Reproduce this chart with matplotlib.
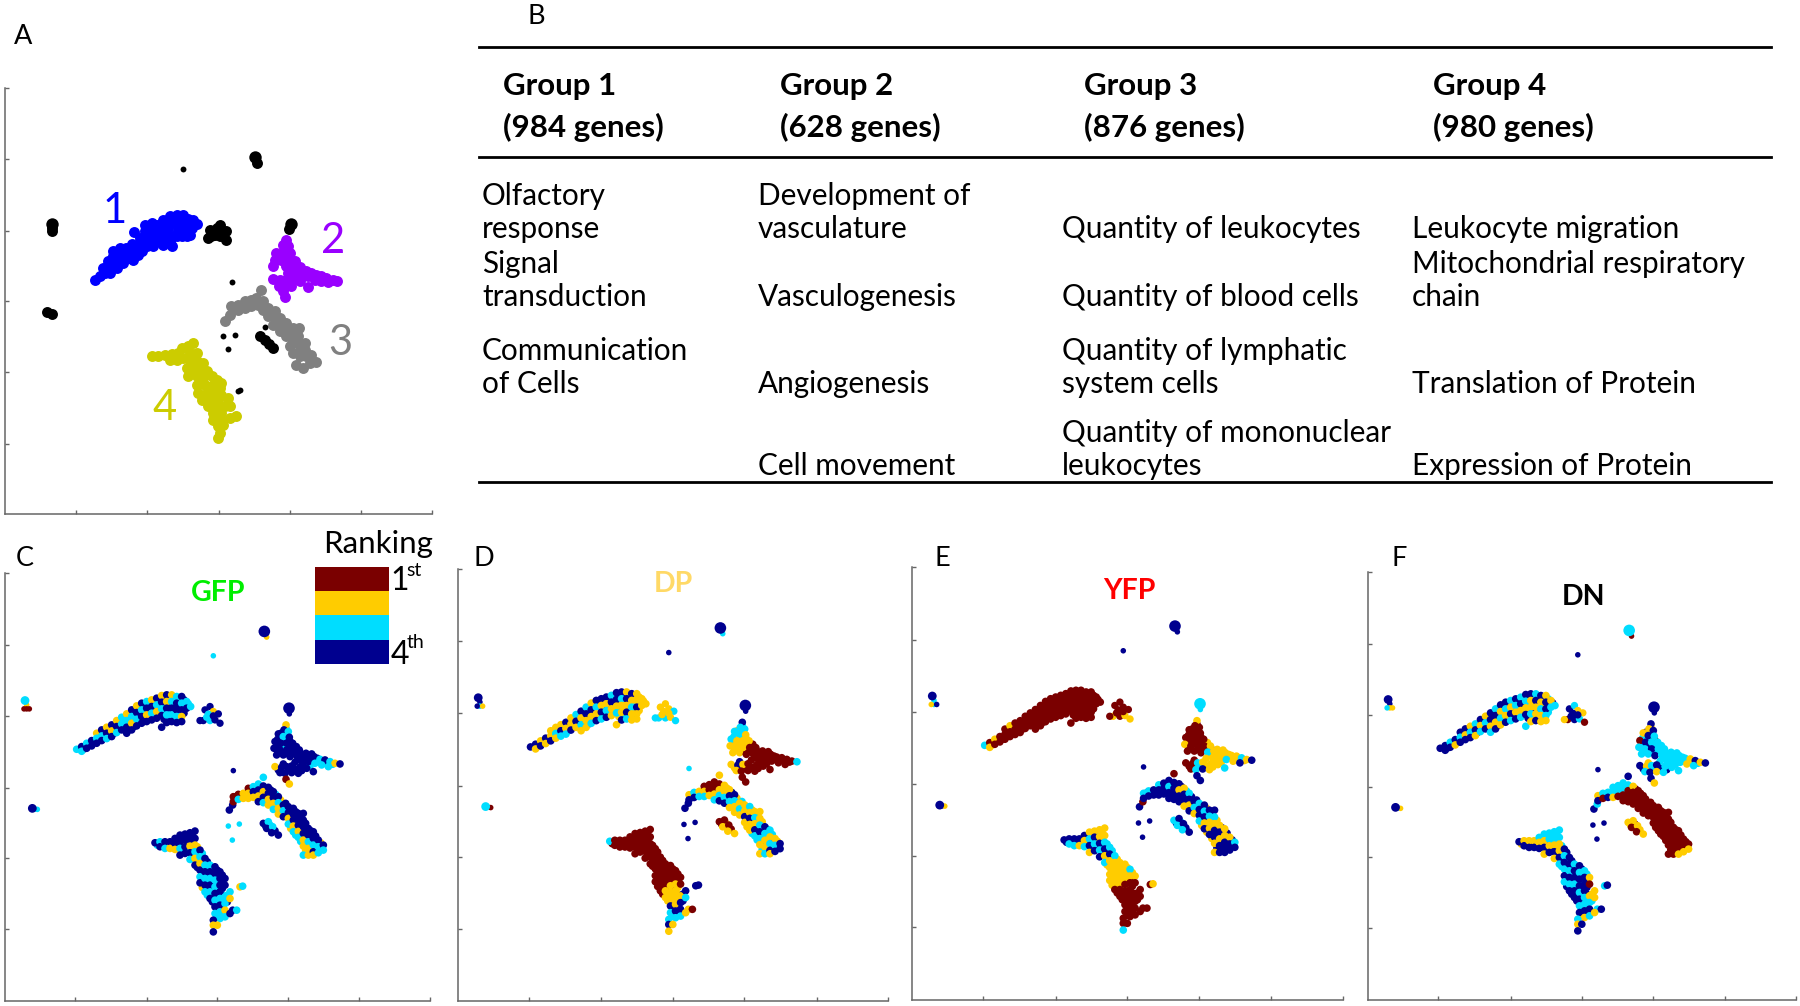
import matplotlib
matplotlib.use('Agg')
import matplotlib.pyplot as plt
import numpy as np
from matplotlib.colors import ListedColormap

plt.rcParams['font.family'] = ['Lato', 'DejaVu Sans']

W, H = 1800, 1006

# ---- table text (panel B)
group_names = ['Group 1', 'Group 2', 'Group 3', 'Group 4']
group_genes = ['(984 genes)', '(628 genes)', '(876 genes)', '(980 genes)']
col1_terms = [('Olfactory', 0), ('response', 1), ('Signal', 2), ('transduction', 3),
              ('Communication', 4), ('of Cells', 5)]
col2_terms = [('Development of', 0), ('vasculature', 1), ('Vasculogenesis', 3),
              ('Angiogenesis', 5), ('Cell movement', 7)]
col3_terms = [('Quantity of leukocytes', 1), ('Quantity of blood cells', 3),
              ('Quantity of lymphatic', 4), ('system cells', 5),
              ('Quantity of mononuclear', 6), ('leukocytes', 7)]
col4_terms = [('Leukocyte migration', 1), ('Mitochondrial respiratory', 2), ('chain', 3),
              ('Translation of Protein', 5), ('Expression of Protein', 7)]

# ---- panel A points, one list per group
a_blue = [(285, 660), (300, 650), (315, 640), (310, 625), (328, 625), (325, 605), (342, 612), (340, 588),
          (358, 600), (358, 578), (375, 590), (378, 565), (395, 580), (395, 552), (412, 568), (420, 535),
          (430, 555), (435, 515), (450, 545), (450, 505), (465, 530), (470, 495), (485, 520), (490, 480),
          (505, 505), (510, 470), (525, 490), (530, 465), (545, 485), (550, 465), (565, 478), (580, 480),
          (590, 492), (575, 505), (555, 505), (535, 510), (520, 530), (500, 530), (545, 530), (570, 525),
          (480, 538), (460, 560), (517, 560), (403, 516), (440, 560), (415, 585), (385, 595),
          (330, 640), (350, 625), (370, 610), (400, 600), (425, 575), (445, 530), (470, 545), (490, 555),
          (510, 545), (530, 530), (560, 530), (490, 500), (470, 515), (510, 490), (545, 505), (400, 565),
          (380, 580), (345, 600), (440, 535), (420, 555), (360, 565), (340, 575), (455, 490), (435, 495)]
a_purple = [(860, 540), (850, 555), (865, 560), (830, 580), (850, 580), (870, 580), (825, 600), (845, 600),
            (870, 600), (885, 605), (820, 620), (860, 620), (880, 620), (900, 622), (920, 635), (935, 640),
            (950, 645), (965, 650), (980, 655), (1000, 660), (1013, 665), (885, 640), (905, 640), (925, 650),
            (945, 660), (965, 665), (985, 668), (865, 640), (820, 658), (840, 660), (860, 660), (880, 660),
            (900, 665), (925, 682), (838, 680), (855, 680), (875, 680), (850, 695), (855, 712)]
a_gray = [(675, 785), (690, 765), (695, 740), (715, 735), (715, 750), (735, 725), (735, 745), (755, 720),
          (755, 740), (770, 715), (775, 735), (785, 690), (790, 725), (790, 750), (805, 745), (805, 770),
          (825, 755), (825, 775), (820, 795), (840, 775), (840, 795), (840, 815), (860, 790), (860, 810),
          (860, 830), (880, 805), (880, 825), (880, 845), (898, 805), (895, 830), (895, 850), (870, 860),
          (880, 880), (900, 870), (915, 850), (915, 870), (900, 890), (920, 890), (935, 885), (890, 915),
          (910, 925), (930, 910), (950, 908)]
a_olive = [(455, 890), (475, 888), (495, 885), (515, 882), (535, 880), (545, 865), (565, 860), (578, 850),
           (510, 900), (530, 900), (550, 895), (570, 880), (590, 880), (570, 905), (590, 905), (610, 910),
           (560, 925), (580, 925), (600, 930), (620, 935), (565, 950), (590, 950), (610, 955), (635, 950),
           (650, 960), (665, 970), (590, 975), (615, 975), (640, 975), (660, 985), (595, 1000), (620, 1000),
           (645, 1000), (665, 1005), (605, 1020), (630, 1020), (655, 1020), (685, 1015), (625, 1040),
           (650, 1040), (675, 1040), (640, 1060), (665, 1060), (690, 1040), (710, 1068), (640, 1080),
           (665, 1080), (690, 1075), (655, 1100), (670, 1095), (660, 1120), (655, 1135)]
a_black = [(630, 512), (650, 505), (660, 495), (665, 515), (645, 525), (660, 530), (625, 535), (678, 540),
           (680, 515), (632, 530), (772, 310), (868, 508), (780, 828), (795, 840), (808, 852), (820, 864),
           (157, 515), (155, 764), (140, 758), (157, 505)]
a_black_big = [(765, 293), (873, 492), (157, 493)]
a_black_small = [(550, 327), (698, 666), (670, 830), (705, 825), (686, 868), (797, 802), (722, 992), (716, 995)]

# ---- panels C-F share one embedding, ordered along each branch
cluster1 = [(230, 658), (245, 650), (245, 664), (260, 640), (260, 655), (275, 632), (275, 648),
            (290, 610), (290, 625), (290, 640), (305, 600), (305, 618), (305, 632),
            (320, 592), (320, 610), (320, 626), (335, 585), (335, 603), (335, 620),
            (350, 572), (350, 590), (350, 608), (365, 562), (365, 582), (365, 600),
            (380, 552), (380, 572), (380, 592), (380, 610), (395, 540), (395, 560), (395, 580), (395, 600),
            (410, 528), (410, 548), (410, 568), (410, 588), (425, 520), (425, 540), (425, 560), (425, 580),
            (440, 515), (440, 535), (440, 555), (440, 575), (455, 510), (455, 530), (455, 550), (455, 570),
            (470, 505), (470, 525), (470, 545), (470, 565),
            (485, 497), (485, 517), (485, 537), (485, 557), (485, 592),
            (500, 495), (500, 515), (500, 535), (500, 555), (500, 578),
            (515, 495), (515, 515), (515, 535), (515, 555), (515, 575),
            (530, 500), (530, 520), (530, 540), (530, 560), (530, 578),
            (545, 500), (545, 520), (545, 540), (545, 560), (545, 575),
            (560, 515), (560, 535), (572, 530)]
cluster1_b = [(252, 657), (267, 645), (282, 640),
              (297, 615), (297, 632), (312, 608), (312, 624), (327, 600), (327, 615),
              (342, 592), (342, 610), (357, 580), (357, 598), (372, 570), (372, 590),
              (387, 560), (387, 582), (387, 600), (402, 548), (402, 570), (402, 590),
              (417, 535), (417, 556), (417, 578), (432, 528), (432, 548), (432, 568),
              (447, 522), (447, 542), (447, 562), (462, 518), (462, 538), (462, 558),
              (477, 510), (477, 530), (477, 552),
              (492, 505), (492, 527), (492, 547), (492, 568), (507, 505), (507, 525), (507, 545), (507, 566),
              (522, 507), (522, 527), (522, 547), (522, 567), (537, 510), (537, 530), (537, 550), (537, 568),
              (552, 510), (552, 530), (552, 550), (565, 522)]
blob = [(615, 540), (630, 530), (640, 545), (655, 552), (625, 553), (610, 572),
        (600, 572), (630, 572), (645, 570), (660, 580), (620, 562), (640, 558)]
cluster2 = [(858, 585), (852, 600), (865, 605), (835, 612), (850, 620), (868, 622),
            (825, 635), (842, 640), (860, 640), (878, 640),
            (822, 655), (840, 660), (860, 660), (880, 660), (898, 660),
            (830, 675), (850, 675), (870, 680), (890, 678), (908, 675), (925, 680),
            (942, 680), (960, 688), (975, 690), (990, 695), (1005, 700), (1020, 702),
            (885, 697), (905, 695), (925, 695), (945, 700), (965, 705), (985, 710),
            (900, 712), (920, 715), (940, 725),
            (825, 710), (845, 712), (860, 710), (875, 708),
            (840, 728), (855, 730), (875, 728), (895, 730), (858, 748), (868, 762)]
cluster2_b = [(858, 595), (843, 610), (860, 612), (833, 628), (851, 630), (869, 632),
              (831, 648), (850, 650), (870, 650), (889, 650),
              (835, 667), (860, 670), (880, 670), (900, 668), (918, 670), (935, 672),
              (952, 685), (968, 697), (982, 700), (998, 703),
              (895, 688), (915, 688), (935, 690), (955, 695), (910, 705), (930, 708),
              (835, 720), (850, 702), (868, 718), (885, 718), (905, 722)]
cluster3 = [(688, 840), (698, 825), (700, 800), (700, 815), (715, 793), (715, 808), (730, 790), (730, 805),
            (745, 775), (745, 790), (745, 805), (760, 770), (760, 785), (760, 802),
            (775, 762), (775, 780), (775, 798), (775, 815),
            (790, 742), (790, 768), (790, 785), (790, 802), (790, 818),
            (805, 772), (805, 790), (805, 808), (805, 825), (820, 785), (820, 803), (820, 820), (820, 838),
            (835, 800), (835, 818), (835, 835), (835, 852), (850, 825), (850, 842), (850, 860),
            (865, 830), (865, 848), (865, 865), (865, 882),
            (880, 835), (880, 853), (880, 870), (880, 888), (880, 905),
            (895, 850), (895, 868), (895, 886), (895, 904), (895, 922),
            (910, 850), (910, 870), (910, 890), (910, 910), (910, 930), (910, 948), (910, 975),
            (925, 895), (925, 915), (925, 935), (925, 955), (925, 975),
            (940, 905), (940, 925), (940, 945), (940, 965), (940, 975),
            (955, 930), (955, 950), (955, 968), (970, 945), (970, 960),
            (790, 880), (805, 875), (800, 895), (818, 890), (815, 908), (835, 915)]
cluster3_b = [(707, 800), (722, 800), (737, 797), (752, 782), (752, 797), (767, 775), (767, 792),
              (782, 772), (782, 792), (782, 808), (797, 780), (797, 797), (797, 815),
              (812, 780), (812, 798), (812, 816), (827, 793), (827, 811), (827, 830),
              (842, 810), (842, 828), (842, 846), (857, 820), (857, 838), (857, 855),
              (872, 840), (872, 858), (872, 876), (872, 895),
              (887, 845), (887, 862), (887, 880), (887, 898), (887, 915),
              (902, 860), (902, 878), (902, 896), (902, 914), (902, 934),
              (917, 880), (917, 902), (917, 922), (917, 942), (917, 962),
              (932, 902), (932, 922), (932, 942), (932, 962),
              (947, 918), (947, 938), (947, 958), (962, 938), (962, 955),
              (797, 888), (810, 885), (825, 902)]
cluster4 = [(465, 938), (480, 935), (480, 950), (495, 935), (495, 955), (510, 935), (510, 955),
            (525, 925), (525, 940), (525, 958), (540, 915), (540, 935), (540, 955), (540, 975),
            (555, 912), (555, 930), (555, 950), (555, 970),
            (570, 908), (570, 928), (570, 948), (570, 968), (570, 988),
            (585, 903), (585, 925), (585, 945), (585, 965), (585, 985), (585, 1005),
            (600, 960), (600, 980), (600, 1000), (600, 1020), (600, 1040), (600, 1058),
            (615, 985), (615, 1005), (615, 1025), (615, 1045), (615, 1065), (615, 1085),
            (630, 1005), (630, 1025), (630, 1045), (630, 1065), (630, 1085), (630, 1105),
            (645, 1010), (645, 1030), (645, 1050), (645, 1070), (645, 1090), (645, 1110), (645, 1130), (645, 1150),
            (660, 1025), (660, 1045), (660, 1065), (660, 1085), (660, 1105), (660, 1125), (660, 1145), (660, 1165),
            (675, 1045), (675, 1065), (675, 1100), (675, 1120), (675, 1140), (675, 1160),
            (690, 1085), (690, 1105), (640, 1170), (640, 1185), (640, 1205), (652, 1185),
            (698, 1140), (710, 1140), (690, 1150), (720, 1070), (728, 1068)]
cluster4_b = [(472, 945), (487, 943), (502, 945), (517, 948), (532, 930), (532, 950),
              (547, 925), (547, 945), (547, 965), (562, 920), (562, 940), (562, 960),
              (577, 915), (577, 935), (577, 955), (577, 975),
              (592, 950), (592, 970), (592, 990), (592, 1012),
              (607, 970), (607, 990), (607, 1010), (607, 1030), (607, 1050), (607, 1072),
              (622, 995), (622, 1015), (622, 1035), (622, 1055), (622, 1075), (622, 1095),
              (637, 1015), (637, 1035), (637, 1055), (637, 1075), (637, 1095), (637, 1115),
              (652, 1020), (652, 1040), (652, 1060), (652, 1080), (652, 1100), (652, 1120), (652, 1140), (652, 1160),
              (667, 1035), (667, 1055), (667, 1075), (667, 1095), (667, 1115), (667, 1135), (667, 1155),
              (682, 1095), (682, 1115)]
dots_big = [(793, 305), (867, 535)]
dots_mid = [(75, 512), (97, 835)]
dots_small = [(800, 322), (640, 378), (868, 552), (80, 525), (80, 537), (72, 537), (88, 537),
              (105, 837), (112, 838), (700, 722), (685, 888), (718, 882), (697, 930)]

# ---- rank of every point (1st..4th) for each sample, same order as the lists above
rank_c1 = {
    'GFP': '3 43 34 44 234 434 243 424 243 334 2344 4324 2434 4344 3424 2434 4324 24344 42434 23434 34434 43424 34 3',
    'DP': '4 42 24 42 224 232 243 423 224 342 4232 3422 2423 4324 4243 4234 3422 44232 43224 24243 42322 22422 22 2',
    'YFP': '3 12 21 11 111 211 111 111 111 111 1111 1111 1111 1111 1111 1111 1111 11111 11111 11111 11111 11111 11 1',
    'DN': '4 44 34 42 434 424 234 342 423 234 4423 3424 4232 4324 3243 4324 3423 43243 42232 34224 42322 24432 23 3',
}
rank_c1_b = {
    'GFP': '4 3 2 34 44 23 34 43 24 434 324 243 434 324 443 243 4344 2434 3444 3434 434 3',
    'DP': '2 4 2 22 32 24 23 42 23 243 324 232 423 243 342 234 4232 4223 3242 2324 232 2',
    'YFP': '2 1 1 11 11 21 11 11 11 111 111 111 111 111 111 111 1111 1111 1111 1111 111 1',
    'DN': '4 3 4 43 24 42 34 24 32 423 234 342 432 243 423 342 4324 3242 2343 4232 343 4',
}
rank_blob = {
    'GFP': '442 434 434 434',
    'DP': '222 323 332 322',
    'YFP': '111 112 112 211',
    'DN': '432 241 243 144',
}
rank_c2 = {
    'GFP': '243 434 4444 44444 444444434324 444333 444 2444 4444 12',
    'DP': '433 332 3222 22211 221111111113 111111 111 2421 2111 11',
    'YFP': '211 111 1111 21112 111322222324 222324 223 1132 1342 44',
    'DN': '424 243 1433 33433 334333332424 333323 333 4234 3423 42',
}
rank_c2_b = {
    'GFP': '3 43 444 4344 4444444343 4443 43 44444',
    'DP': '3 23 322 2221 2111111111 1111 11 24111',
    'YFP': '1 11 111 1112 1111222232 2222 22 11322',
    'DN': '2 43 331 3433 3333333323 3333 33 42344',
}
rank_c3 = {
    'GFP': '44 11 13 22 122 342 3424 34243 4422 4423 4322 434 4423 44423 44423 4444223 44322 44342 433 43 434344',
    'DP': '44 24 34 23 123 112 1123 21234 2234 2432 4322 232 2242 32422 23243 2234322 43223 32342 234 44 112122',
    'YFP': '41 34 34 44 344 444 4344 14444 4244 2442 3424 432 3443 43424 43224 4324422 24244 22444 244 34 343434',
    'DN': '43 24 31 34 332 331 3311 43111 2111 1111 1111 111 1111 11111 11111 1111111 11111 11112 112 12 221212',
}
rank_c3_b = {
    'GFP': '1 1 2 22 23 324 243 423 342 232 423 4432 44243 44423 44322 4422 432 23 434',
    'DP': '3 2 1 12 13 212 123 234 423 243 322 4232 24223 32423 23243 3223 342 24 121',
    'YFP': '4 4 3 44 43 444 424 442 342 432 424 3442 24342 42342 22424 4244 444 43 434',
    'DN': '3 3 3 34 33 411 111 111 111 111 111 1111 11111 11111 11111 1111 111 11 212',
}
rank_c4 = {
    'GFP': '4 34 43 42 442 4434 4444 44243 442324 432434 434343 343434 44334343 44443433 443323 32 424 2 434 23',
    'DP': '3 11 11 11 111 1111 1111 11111 111111 111111 111111 111122 11122243 11222243 112443 43 342 2 212 44',
    'YFP': '4 43 43 42 423 2342 2434 22434 223423 342222 322221 222211 22211111 32111111 211111 11 113 1 111 12',
    'DN': '4 24 24 24 324 3242 3324 33242 332243 434343 443434 344344 43443434 34443342 212343 22 324 4 342 34',
}
rank_c4_b = {
    'GFP': '3 4 2 4 43 434 423 4432 2434 343432 434343 343434 44343423 4443342 34',
    'DP': '1 1 1 1 11 111 111 1111 1111 111111 111111 111122 11112243 1122243 44',
    'YFP': '4 3 4 2 34 232 324 2234 3422 322222 222221 222211 22221111 2111111 11',
    'DN': '2 2 4 2 23 243 334 3324 3343 434344 443434 344344 44343432 3444322 23',
}
rank_big = {'GFP': '44', 'DP': '44', 'YFP': '43', 'DN': '34'}
rank_mid = {'GFP': '34', 'DP': '43', 'YFP': '44', 'DN': '44'}
rank_small = {
    'GFP': '234 2111 33 4 333',
    'DP': '344 4342 21 3 444',
    'YFP': '443 3324 42 4 444',
    'DN': '144 4232 32 4 444',
}

rank_colors = ['#7a0000', '#ffcc00', '#00ddff', '#00008f']


def px_axes(fig, left, top, right, bottom):
    return fig.add_axes([left / W, 1 - bottom / H, (right - left) / W, (bottom - top) / H])


def style_axes(ax, xticks, yticks):
    ax.set_xticks(xticks)
    ax.set_yticks(yticks)
    ax.tick_params(direction='in', length=3, width=1, color='#666666', labelbottom=False, labelleft=False)
    for side in ['top', 'right']:
        ax.spines[side].set_visible(False)
    for side in ['left', 'bottom']:
        ax.spines[side].set_color('#666666')
        ax.spines[side].set_linewidth(1.1)


def txt(fig, x, y, s, **kw):
    kw.setdefault('va', 'center')
    kw.setdefault('ha', 'left')
    kw.setdefault('color', 'black')
    fig.text(x / W, 1 - y / H, s, **kw)


def rank_list(d, name):
    return [rank_colors[int(c) - 1] for c in d[name].replace(' ', '')]


fig = plt.figure(figsize=(18, 10.06), dpi=100)

# ---- panel A
ax = px_axes(fig, 5, 88, 432, 514)
for pts, col in [(a_blue, '#0000ff'), (a_purple, '#9900ff'), (a_gray, '#808080'),
                 (a_olive, '#cccc00'), (a_black, 'black')]:
    arr = np.array(pts)
    ax.scatter(arr[:, 0], arr[:, 1], s=62, c=col, linewidths=0)
arr = np.array(a_black_big)
ax.scatter(arr[:, 0], arr[:, 1], s=80, c='black', linewidths=0)
arr = np.array(a_black_small)
ax.scatter(arr[:, 0], arr[:, 1], s=18, c='black', linewidths=0)
ax.set_xlim(15, 1297)
ax.set_ylim(1363, 85)
style_axes(ax, [228, 440, 657, 870, 1083, 1297], [1153, 938, 725, 513, 297, 85])

for s, x, y, col in [('1', 115, 211, '#0000ff'), ('2', 333, 241, '#9900ff'),
                     ('3', 340, 343, '#808080'), ('4', 165, 408, '#cccc00')]:
    txt(fig, x, y, s, color=col, fontsize=30, ha='center')

# ---- panels C-F
panels = [('GFP', 5, 573, 430, 1001, '#00ee00', 218, 593),
          ('DP', 458, 569, 888, 1001, '#ffd966', 673, 584),
          ('YFP', 912, 567, 1343, 1000, '#ff0000', 1129, 591),
          ('DN', 1368, 572, 1796, 1000, 'black', 1584, 597)]
for name, left, top, right, bottom, col, tx, ty in panels:
    ax = px_axes(fig, left, top, right, bottom)
    for pts, ranks, size in [(cluster1_b, rank_c1_b, 30), (cluster1, rank_c1, 30), (blob, rank_blob, 28),
                             (cluster2_b, rank_c2_b, 30), (cluster2, rank_c2, 30),
                             (cluster3_b, rank_c3_b, 30), (cluster3, rank_c3, 30),
                             (cluster4_b, rank_c4_b, 30), (cluster4, rank_c4, 30),
                             (dots_small, rank_small, 16), (dots_mid, rank_mid, 40), (dots_big, rank_big, 70)]:
        arr = np.array(pts)
        ax.scatter(arr[:, 0], arr[:, 1], s=size, c=rank_list(ranks, name), linewidths=0)
    ax.set_xlim(15, 1290)
    ax.set_ylim(1412, 130)
    style_axes(ax, [225, 440, 652, 864, 1078, 1290], [1197, 985, 773, 558, 345, 130])
    txt(fig, tx, ty, name, color=col, fontsize=20.5, fontweight='bold', ha='center')

# ---- ranking key
ax = px_axes(fig, 315, 567, 389, 664)
ax.imshow(np.arange(4).reshape(4, 1), cmap=ListedColormap(rank_colors), aspect='auto')
ax.axis('off')
txt(fig, 378, 544, 'Ranking', fontsize=22.5, ha='center')
txt(fig, 390, 581, '1', fontsize=23)
txt(fig, 406, 570, 'st', fontsize=14)
txt(fig, 391, 655, '4', fontsize=23)
txt(fig, 407, 643, 'th', fontsize=14)

# ---- panel B table
for y in [47, 157, 482]:
    fig.add_artist(plt.Line2D([479 / W, 1771 / W], [1 - y / H] * 2, color='black', lw=2))

for i, x in enumerate([503, 780, 1084, 1433]):
    txt(fig, x, 86, group_names[i], fontsize=22.5, fontweight='bold')
    txt(fig, x, 127, group_genes[i], fontsize=22.5, fontweight='bold')

row_y = [196, 229, 264, 297, 351, 384, 433, 466]
for terms, x in [(col1_terms, 482), (col2_terms, 758), (col3_terms, 1062), (col4_terms, 1412)]:
    for s, row in terms:
        txt(fig, x, row_y[row], s, fontsize=21.4)

# ---- panel letters
for s, x, y in [('A', 23, 36), ('B', 536, 17), ('C', 25, 558), ('D', 484, 558), ('E', 942, 558), ('F', 1399, 558)]:
    txt(fig, x, y, s, fontsize=19.5, ha='center')

fig.savefig('out.png', dpi=100)
